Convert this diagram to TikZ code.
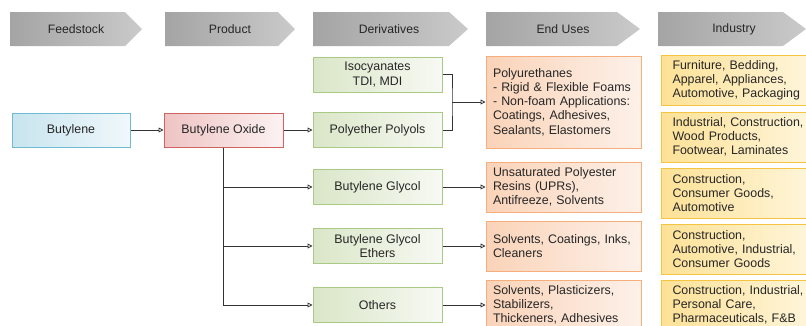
\documentclass[tikz,border=0pt]{standalone}
\usepackage{fontspec}
\setmainfont{Liberation Sans}
\usetikzlibrary{arrows.meta}

\definecolor{hdrL}{HTML}{A4A4A4}
\definecolor{hdrR}{HTML}{CACACA}
\definecolor{feedD}{HTML}{6FBCD2}
\definecolor{feedL}{HTML}{C8E4EE}
\definecolor{feedR}{HTML}{F0F8FB}
\definecolor{prodD}{HTML}{CF6262}
\definecolor{prodL}{HTML}{EFC3C3}
\definecolor{prodR}{HTML}{FCF2F2}
\definecolor{derD}{HTML}{A9C985}
\definecolor{derL}{HTML}{DAE6C8}
\definecolor{derR}{HTML}{F7F9F3}
\definecolor{useD}{HTML}{F5AE7C}
\definecolor{useL}{HTML}{FAD3B8}
\definecolor{useR}{HTML}{FDF1E9}
\definecolor{indD}{HTML}{F6C443}
\definecolor{indL}{HTML}{FDE196}
\definecolor{indR}{HTML}{FEF7E0}

\begin{document}
\begin{tikzpicture}[x=1pt, y=-1pt,
  txt/.style={font=\fontsize{12.4pt}{14.2pt}\selectfont, text=black!85},
  hdr/.style={left color=hdrL, right color=hdrR},
  hdrtext/.style={txt, font=\fontsize{12.2pt}{14pt}\selectfont},
  box/.style={txt, rectangle, line width=1pt, inner ysep=0pt},
  feedbox/.style={box, draw=feedD, left color=feedL, right color=feedR, minimum width=118pt, minimum height=34pt},
  prodbox/.style={box, draw=prodD, left color=prodL, right color=prodR, minimum width=119pt, minimum height=34pt},
  derbox/.style={box, draw=derD, left color=derL, right color=derR, minimum width=129pt, minimum height=35pt, align=center},
  usebox/.style={box, draw=useD, left color=useL, right color=useR, inner xsep=7pt, text width=141pt, minimum height=50pt, align=left},
  indbox/.style={box, draw=indD, left color=indL, right color=indR, inner xsep=11pt, text width=140pt, minimum height=50pt, align=left, anchor=west},
  link/.style={draw=black!80, line width=0.8pt},
  arr/.style={link, -{Triangle[open, length=5pt, width=5pt]}}]
\useasboundingbox (0, 0) rectangle (806, 325);

\shade [hdr] (10, 12) -- (125, 12) -- (142, 29) -- (125, 46) -- (10, 46) -- cycle;
\shade [hdr] (165, 12) -- (278, 12) -- (295, 29) -- (278, 46) -- (165, 46) -- cycle;
\shade [hdr] (313, 12) -- (449, 12) -- (468, 29) -- (449, 46) -- (313, 46) -- cycle;
\shade [hdr] (486, 12) -- (617, 12) -- (640, 29) -- (617, 46) -- (486, 46) -- cycle;
\shade [hdr] (658, 12) -- (783, 12) -- (806, 29) -- (783, 46) -- (658, 46) -- cycle;
\node [hdrtext] (h1) at (76, 29) {Feedstock};
\node [hdrtext] (h2) at (230, 29) {Product};
\node [hdrtext] (h3) at (389, 29) {Derivatives};
\node [hdrtext] (h4) at (563, 29) {End Uses};
\node [hdrtext] (h5) at (734, 29) {Industry};

\node [feedbox] (butylene) at (71, 130) {Butylene};
\node [prodbox] (oxide) at (223.5, 130) {Butylene Oxide};

\node [derbox] (iso) at (377.5, 74.5) {Isocyanates\\TDI, MDI};
\node [derbox] (polyols) at (377.5, 130) {Polyether Polyols};
\node [derbox] (glycol) at (377.5, 187) {Butylene Glycol};
\node [derbox] (ethers) at (377.5, 246) {Butylene Glycol\\Ethers};
\node [derbox] (others) at (377.5, 305) {Others};

\node [usebox, minimum height=92pt] (pu) at (563.5, 102) {Polyurethanes\\- Rigid \& Flexible Foams\\- Non-foam Applications:\\Coatings, Adhesives,\\Sealants, Elastomers};
\node [usebox] (upr) at (563.5, 187) {Unsaturated Polyester\\Resins (UPRs),\\Antifreeze, Solvents};
\node [usebox] (solv) at (563.5, 246) {Solvents, Coatings, Inks,\\Cleaners};
\node [usebox] (plast) at (563.5, 305) {Solvents, Plasticizers,\\Stabilizers,\\Thickeners, Adhesives};

\node [indbox] (ind1) at (661, 80) {Furniture, Bedding,\\Apparel, Appliances,\\Automotive, Packaging};
\node [indbox] (ind2) at (661, 137) {Industrial, Construction,\\Wood Products,\\Footwear, Laminates};
\node [indbox] (ind3) at (661, 193) {Construction,\\Consumer Goods,\\Automotive};
\node [indbox] (ind4) at (661, 249) {Construction,\\Automotive, Industrial,\\Consumer Goods};
\node [indbox] (ind5) at (661, 305) {Construction, Industrial,\\Personal Care,\\Pharmaceuticals, F\&B};

\coordinate (join) at (452, 102);
\draw [arr] (butylene) -- (oxide);
\draw [arr] (oxide) -- (polyols);
\draw [link] (iso.east) -| (join) |- (polyols.east);
\draw [arr] (join) -- (pu.west);
\draw [arr] (oxide.south) |- (glycol.west);
\draw [arr] (oxide.south) |- (ethers.west);
\draw [arr] (oxide.south) |- (others.west);
\draw [arr] (glycol) -- (upr);
\draw [arr] (ethers) -- (solv);
\draw [arr] (others) -- (plast);
\end{tikzpicture}
\end{document}
